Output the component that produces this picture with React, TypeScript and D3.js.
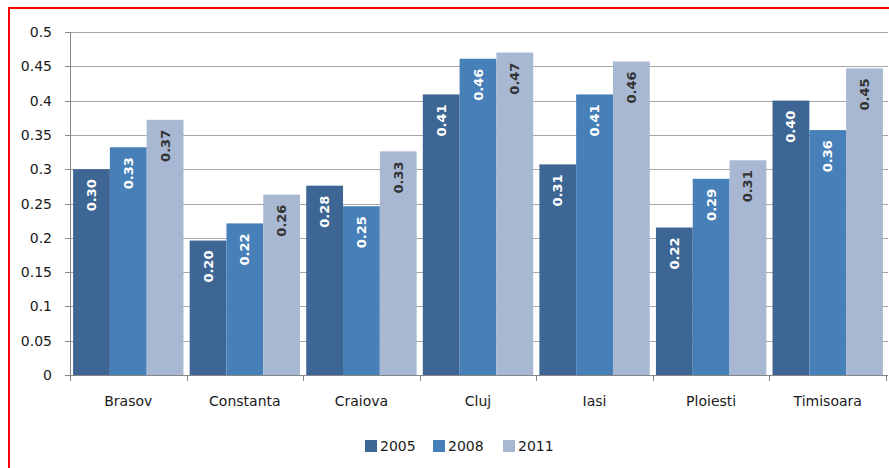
import React from "react";
import * as d3 from "d3";

const categories = ["Brasov", "Constanta", "Craiova", "Cluj", "Iasi", "Ploiesti", "Timisoara"];
const seriesNames = ["2005", "2008", "2011"];
const values2005 = [0.30, 0.196, 0.276, 0.409, 0.307, 0.215, 0.400];
const values2008 = [0.332, 0.221, 0.246, 0.461, 0.409, 0.286, 0.357];
const values2011 = [0.372, 0.263, 0.326, 0.470, 0.457, 0.313, 0.447];
const labels2005 = ["0.30", "0.20", "0.28", "0.41", "0.31", "0.22", "0.40"];
const labels2008 = ["0.33", "0.22", "0.25", "0.46", "0.41", "0.29", "0.36"];
const labels2011 = ["0.37", "0.26", "0.33", "0.47", "0.46", "0.31", "0.45"];
const yTicks = [0, 0.05, 0.1, 0.15, 0.2, 0.25, 0.3, 0.35, 0.4, 0.45, 0.5];
const yTickLabels = ["0", "0.05", "0.1", "0.15", "0.2", "0.25", "0.3", "0.35", "0.4", "0.45", "0.5"];

const seriesValues = [values2005, values2008, values2011];
const seriesLabels = [labels2005, labels2008, labels2011];
const colors = ["#3e6695", "#4780b8", "#a8b8d2"];
const labelColors = ["#ffffff", "#ffffff", "#333333"];

const W = 889;
const H = 468;
const left = 70;
const right = 886;
const top = 32;
const bottom = 375;

export default function App() {
  const x0 = d3.scaleBand<string>().domain(categories).range([left, right]).padding(0);
  const bw = x0.bandwidth();
  const gap = bw * 0.053;
  const x1 = d3.scaleBand<string>().domain(seriesNames).range([gap / 2, bw - gap / 2]).padding(0);
  const y = d3.scaleLinear().domain([0, 0.5]).range([bottom, top]);
  const font = "'DejaVu Sans', Verdana, sans-serif";
  const boundaries = categories.map((c) => x0(c) as number).concat([right]);

  const legendX = [365, 433, 503];

  return (
    <div style={{ position: "absolute", left: 0, top: 0, width: W, height: H, background: "#fff" }}>
      <svg width={W} height={H} style={{ display: "block" }}>
        <rect x={0} y={0} width={W} height={H} fill="#ffffff" />
        {yTicks.slice(1).map((t) => (
          <line key={"g" + t} x1={left} x2={right + 2} y1={Math.round(y(t)) + 0.5} y2={Math.round(y(t)) + 0.5} stroke="#a6a6a6" strokeWidth={1} />
        ))}
        {categories.map((c, i) => (
          <g key={c} transform={`translate(${x0(c)},0)`}>
            {seriesNames.map((s, j) => {
              const v = seriesValues[j][i];
              const bx = x1(s) as number;
              const bwid = x1.bandwidth();
              return (
                <g key={s}>
                  <rect x={bx} y={y(v)} width={bwid} height={bottom - y(v)} fill={colors[j]} />
                  <text
                    transform={`translate(${bx + bwid / 2},${y(v) + 10}) rotate(-90)`}
                    textAnchor="end"
                    dominantBaseline="central"
                    fontFamily={font}
                    fontWeight="bold"
                    fontSize={13}
                    fill={labelColors[j]}
                  >
                    {seriesLabels[j][i]}
                  </text>
                </g>
              );
            })}
          </g>
        ))}
        <line x1={left + 0.5} x2={left + 0.5} y1={top} y2={bottom + 6} stroke="#868686" />
        {yTicks.map((t, i) => (
          <g key={"yt" + t}>
            <line x1={left - 5} x2={left} y1={Math.round(y(t)) + 0.5} y2={Math.round(y(t)) + 0.5} stroke="#868686" />
            <text x={52} y={y(t)} textAnchor="end" dominantBaseline="central" fontFamily={font} fontSize={14} fill="#1a1a1a">
              {yTickLabels[i]}
            </text>
          </g>
        ))}
        <line x1={left} x2={right + 2} y1={bottom + 0.5} y2={bottom + 0.5} stroke="#868686" />
        {boundaries.map((bx, i) => (
          <line key={"xt" + i} x1={Math.round(bx) + 0.5} x2={Math.round(bx) + 0.5} y1={bottom} y2={bottom + 6} stroke="#868686" />
        ))}
        {categories.map((c) => (
          <text key={"cl" + c} x={(x0(c) as number) + bw / 2} y={401} textAnchor="middle" dominantBaseline="central" fontFamily={font} fontSize={14} fill="#1a1a1a">
            {c}
          </text>
        ))}
        {seriesNames.map((s, j) => (
          <g key={"lg" + s} transform={`translate(${legendX[j]},446)`}>
            <rect x={0} y={-6} width={12} height={12} fill={colors[j]} />
            <text x={15} y={0} dominantBaseline="central" fontFamily={font} fontSize={14} fill="#1a1a1a">
              {s}
            </text>
          </g>
        ))}
        <line x1={8} x2={W} y1={8} y2={8} stroke="#ff0000" strokeWidth={2} />
        <line x1={9} x2={9} y1={7} y2={H} stroke="#ff0000" strokeWidth={2} />
      </svg>
    </div>
  );
}
